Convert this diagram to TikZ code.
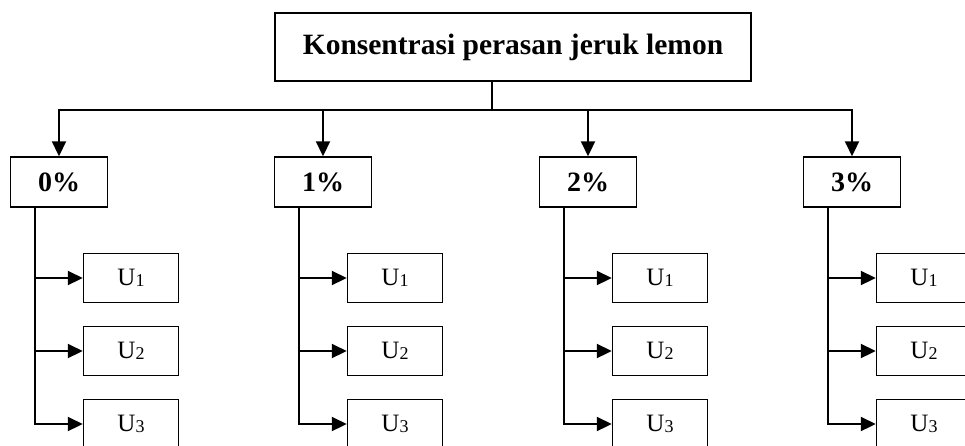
\documentclass[tikz,border=0pt]{standalone}
\usepackage{fontspec}
\setmainfont{Liberation Serif}
\usetikzlibrary{arrows.meta,calc}
\begin{document}
\begin{tikzpicture}[x=1pt,y=-1pt,
  topbox/.style={draw,line width=1.5pt,minimum width=476pt,minimum height=68pt,inner sep=0pt,
    font=\fontsize{29.5}{34}\selectfont\bfseries},
  pbox/.style={draw,line width=1.5pt,minimum width=97pt,minimum height=50pt,inner sep=0pt,
    font=\fontsize{28}{32}\selectfont\bfseries},
  ubox/.style={draw,line width=1.5pt,minimum width=95pt,minimum height=49pt,inner sep=0pt,
    font=\fontsize{25}{30}\selectfont},
  conn/.style={line width=2.2pt},
  arr/.style={conn,-{Triangle[length=15pt,width=14pt]}}]
\useasboundingbox (0,0) rectangle (965,445);
\clip (0,0) rectangle (965,445);
\newcommand{\usub}[1]{U{\fontsize{18}{20}\selectfont\raisebox{-0.5pt}{#1}}}
\node[topbox] (top) at (513,47) {Konsentrasi perasan jeruk lemon};
\coordinate (hy) at (492,110);
\foreach \i/\x/\t in {0/59/0\%,1/323/1\%,2/588/2\%,3/852/3\%}{
  \node[pbox] (p\i) at (\x,182) {\t};
  \coordinate (b\i) at (\x-24,207);
  \node[ubox] (u\i1) at (\x+72,278) {\usub{1}};
  \node[ubox] (u\i2) at (\x+72,351) {\usub{2}};
  \node[ubox] (u\i3) at (\x+72,424) {\usub{3}};
}
\draw[conn] (top.south -| hy) -- (hy);
\draw[conn,line cap=rect] (p0.north |- hy) -- (p3.north |- hy);
\foreach \i in {0,1,2,3}{
  \draw[arr] (p\i.north |- hy) -- (p\i.north);
  \draw[arr] (b\i) |- (u\i3.west);
  \draw[arr] (b\i |- u\i1.west) -- (u\i1.west);
  \draw[arr] (b\i |- u\i2.west) -- (u\i2.west);
}
\end{tikzpicture}
\end{document}
